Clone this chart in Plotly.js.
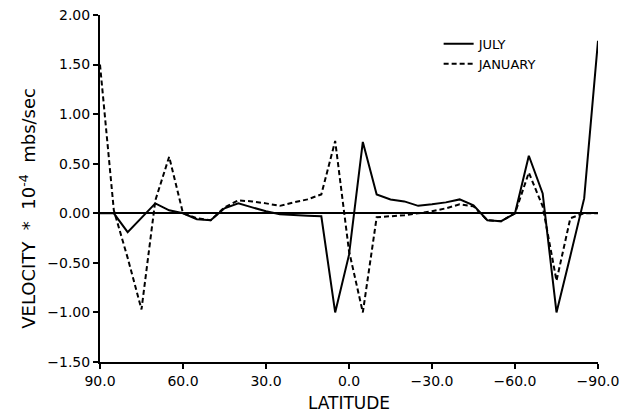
<!DOCTYPE html>
<html>
<head>
<meta charset="utf-8">
<script src="https://cdn.plot.ly/plotly-3.0.1.min.js"></script>
<style>html,body{margin:0;padding:0;background:#fff;}#chart{width:619px;height:420px;}</style>
</head>
<body>
<div id="chart"></div>
<script>
var latitude = [90,85,80,75,70,65,60,55,50,45,40,35,30,25,20,15,10,5,0,-5,-10,-15,-20,-25,-30,-35,-40,-45,-50,-55,-60,-65,-70,-75,-80,-85,-90];
var july = [0.0,0.0,-0.19,-0.05,0.10,0.03,0.0,-0.06,-0.07,0.05,0.10,0.06,0.02,-0.01,-0.02,-0.025,-0.03,-1.0,-0.42,0.72,0.19,0.14,0.12,0.075,0.09,0.11,0.14,0.08,-0.07,-0.08,0.0,0.58,0.20,-1.0,-0.43,0.15,1.74];
var january = [1.50,0.03,-0.45,-0.97,0.13,0.57,0.0,-0.05,-0.07,0.06,0.13,0.12,0.10,0.075,0.11,0.14,0.19,0.73,-0.38,-1.0,-0.04,-0.03,-0.02,0.0,0.02,0.05,0.09,0.07,-0.07,-0.08,0.0,0.41,0.07,-0.68,-0.05,0.0,0.0];
var xTicks = [90,60,30,0,-30,-60,-90];
var yTicks = [2.0,1.5,1.0,0.5,0.0,-0.5,-1.0,-1.5];

var font = {family: "DejaVu Sans", size: 13, color: "#000"};

var traces = [
  {x: latitude, y: july, name: "JULY", mode: "lines", type: "scatter",
   line: {color: "#000", width: 2}},
  {x: latitude, y: january, name: "JANUARY", mode: "lines", type: "scatter",
   line: {color: "#000", width: 2, dash: "5px,3px"}}
];

var layout = {
  width: 619, height: 420,
  margin: {l: 100, r: 21, t: 15, b: 58},
  paper_bgcolor: "#fff", plot_bgcolor: "#fff",
  font: font,
  showlegend: true,
  legend: {x: 0.68, y: 0.96, xanchor: "left", yanchor: "top", bgcolor: "rgba(0,0,0,0)",
           font: {family: "DejaVu Sans", size: 13, color: "#000"}, tracegroupgap: 4},
  xaxis: {
    range: [90, -90], autorange: false,
    tickvals: xTicks, tickformat: ".1f",
    showgrid: false, zeroline: false,
    showline: true, linecolor: "#000", linewidth: 2,
    ticks: "outside", ticklen: 5, tickwidth: 2, tickcolor: "#000",
    ticklabeloverflow: "allow",
    tickfont: {family: "DejaVu Sans", size: 14, color: "#000"},
    title: {text: "LATITUDE", font: {family: "DejaVu Sans", size: 17, color: "#000"}, standoff: 9}
  },
  yaxis: {
    range: [-1.5, 2.0], autorange: false,
    tickvals: yTicks, tickformat: ".2f",
    showgrid: false,
    zeroline: true, zerolinecolor: "#000", zerolinewidth: 2,
    showline: true, linecolor: "#000", linewidth: 2,
    ticks: "outside", ticklen: 5, tickwidth: 2, tickcolor: "#000",
    tickfont: {family: "DejaVu Sans", size: 14, color: "#000"}
  },
  annotations: [{
    text: "VELOCITY  *  10<sup>-4</sup>  mbs/sec",
    xref: "paper", yref: "paper", x: -0.145, y: 0.444,
    xanchor: "center", yanchor: "middle", textangle: -90, showarrow: false,
    font: {family: "DejaVu Sans", size: 18, color: "#000"}
  }]
};

Plotly.newPlot("chart", traces, layout, {displayModeBar: false, staticPlot: true});
</script>
</body>
</html>
